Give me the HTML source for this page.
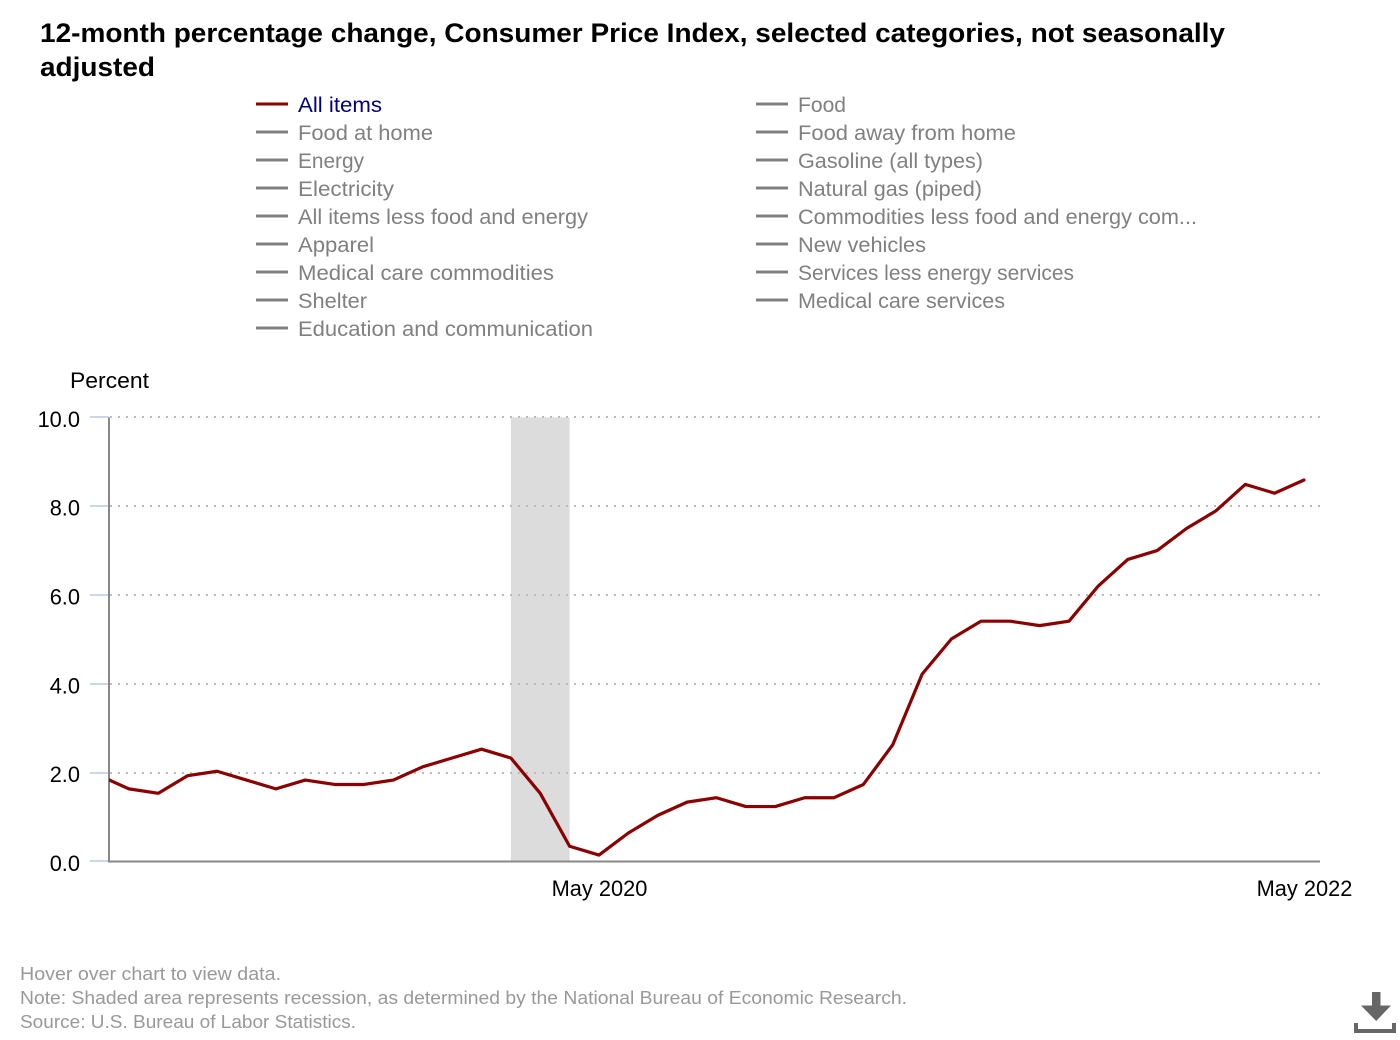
<!DOCTYPE html>
<html lang="en">
<head>
<meta charset="utf-8">
<title>12-month percentage change, Consumer Price Index</title>
<style>
html,body{margin:0;padding:0;background:#fff;width:1400px;height:1040px;overflow:hidden}
svg{display:block;font-family:"Liberation Sans",Arial,sans-serif}
.title{font-size:27px;font-weight:bold;fill:#000}
.leg{font-size:21.5px;fill:#808080}
.legline{stroke:#808080;stroke-width:3}
.foot{font-size:18.5px;fill:#999}
.axis-label{font-size:21.8px;fill:#000}
</style>
</head>
<body>
<svg id="chart" xmlns="http://www.w3.org/2000/svg" width="1400" height="1040" viewBox="0 0 1400 1040">
  <defs>
    <clipPath id="plot-clip"><rect x="109" y="400" width="1215" height="470"/></clipPath>
  </defs>
  <g>
    <text class="title" x="40" y="42" textLength="1185" lengthAdjust="spacingAndGlyphs">12-month percentage change, Consumer Price Index, selected categories, not seasonally</text>
    <text class="title" x="40" y="76" textLength="115" lengthAdjust="spacingAndGlyphs">adjusted</text>
  </g>

  <g>
    <g><line x1="256" x2="288" y1="104" y2="104" stroke="#8b0000" stroke-width="3"/><text class="leg" x="298" y="112" style="fill:#000080" textLength="84" lengthAdjust="spacingAndGlyphs">All items</text></g>
    <g><line class="legline" x1="756" x2="788" y1="104" y2="104"/><text class="leg" x="798" y="112" textLength="48" lengthAdjust="spacingAndGlyphs">Food</text></g>
    <g><line class="legline" x1="256" x2="288" y1="132" y2="132"/><text class="leg" x="298" y="140" textLength="135" lengthAdjust="spacingAndGlyphs">Food at home</text></g>
    <g><line class="legline" x1="756" x2="788" y1="132" y2="132"/><text class="leg" x="798" y="140" textLength="218" lengthAdjust="spacingAndGlyphs">Food away from home</text></g>
    <g><line class="legline" x1="256" x2="288" y1="160" y2="160"/><text class="leg" x="298" y="168" textLength="66" lengthAdjust="spacingAndGlyphs">Energy</text></g>
    <g><line class="legline" x1="756" x2="788" y1="160" y2="160"/><text class="leg" x="798" y="168" textLength="185" lengthAdjust="spacingAndGlyphs">Gasoline (all types)</text></g>
    <g><line class="legline" x1="256" x2="288" y1="188" y2="188"/><text class="leg" x="298" y="196" textLength="96" lengthAdjust="spacingAndGlyphs">Electricity</text></g>
    <g><line class="legline" x1="756" x2="788" y1="188" y2="188"/><text class="leg" x="798" y="196" textLength="184" lengthAdjust="spacingAndGlyphs">Natural gas (piped)</text></g>
    <g><line class="legline" x1="256" x2="288" y1="216" y2="216"/><text class="leg" x="298" y="224" textLength="290" lengthAdjust="spacingAndGlyphs">All items less food and energy</text></g>
    <g><line class="legline" x1="756" x2="788" y1="216" y2="216"/><text class="leg" x="798" y="224" textLength="399" lengthAdjust="spacingAndGlyphs">Commodities less food and energy com...</text></g>
    <g><line class="legline" x1="256" x2="288" y1="244" y2="244"/><text class="leg" x="298" y="252" textLength="76" lengthAdjust="spacingAndGlyphs">Apparel</text></g>
    <g><line class="legline" x1="756" x2="788" y1="244" y2="244"/><text class="leg" x="798" y="252" textLength="128" lengthAdjust="spacingAndGlyphs">New vehicles</text></g>
    <g><line class="legline" x1="256" x2="288" y1="272" y2="272"/><text class="leg" x="298" y="280" textLength="256" lengthAdjust="spacingAndGlyphs">Medical care commodities</text></g>
    <g><line class="legline" x1="756" x2="788" y1="272" y2="272"/><text class="leg" x="798" y="280" textLength="276" lengthAdjust="spacingAndGlyphs">Services less energy services</text></g>
    <g><line class="legline" x1="256" x2="288" y1="300" y2="300"/><text class="leg" x="298" y="308" textLength="69" lengthAdjust="spacingAndGlyphs">Shelter</text></g>
    <g><line class="legline" x1="756" x2="788" y1="300" y2="300"/><text class="leg" x="798" y="308" textLength="207" lengthAdjust="spacingAndGlyphs">Medical care services</text></g>
    <g><line class="legline" x1="256" x2="288" y1="328" y2="328"/><text class="leg" x="298" y="336" textLength="295" lengthAdjust="spacingAndGlyphs">Education and communication</text></g>
  </g>

  <text class="axis-label" x="70" y="388" textLength="79" lengthAdjust="spacingAndGlyphs">Percent</text>

  <g id="recession-layer"></g>
  <g id="grid-layer"></g>
  <g id="axis-layer"></g>
  <g id="series-layer" clip-path="url(#plot-clip)"></g>
  <g id="label-layer"></g>

  <g>
    <text class="foot" x="20" y="980" textLength="261" lengthAdjust="spacingAndGlyphs">Hover over chart to view data.</text>
    <text class="foot" x="20" y="1004" textLength="887" lengthAdjust="spacingAndGlyphs">Note: Shaded area represents recession, as determined by the National Bureau of Economic Research.</text>
    <text class="foot" x="20" y="1028" textLength="336" lengthAdjust="spacingAndGlyphs">Source: U.S. Bureau of Labor Statistics.</text>
  </g>

  <g fill="#666">
    <rect x="1372" y="992" width="8.5" height="13.5"/>
    <polygon points="1361,1005.5 1391,1005.5 1376.2,1021"/>
    <path d="M1354 1023h4v6h34v-6h4v10h-42z"/>
  </g>
</svg>

<script>
const categories = ['Dec 2018','Jan 2019','Feb 2019','Mar 2019','Apr 2019','May 2019','Jun 2019','Jul 2019','Aug 2019','Sep 2019','Oct 2019','Nov 2019','Dec 2019','Jan 2020','Feb 2020','Mar 2020','Apr 2020','May 2020','Jun 2020','Jul 2020','Aug 2020','Sep 2020','Oct 2020','Nov 2020','Dec 2020','Jan 2021','Feb 2021','Mar 2021','Apr 2021','May 2021','Jun 2021','Jul 2021','Aug 2021','Sep 2021','Oct 2021','Nov 2021','Dec 2021','Jan 2022','Feb 2022','Mar 2022','Apr 2022','May 2022'];
const allItems = [1.9,1.6,1.5,1.9,2.0,1.8,1.6,1.8,1.7,1.7,1.8,2.1,2.3,2.5,2.3,1.5,0.3,0.1,0.6,1.0,1.3,1.4,1.2,1.2,1.4,1.4,1.7,2.6,4.2,5.0,5.4,5.4,5.3,5.4,6.2,6.8,7.0,7.5,7.9,8.5,8.3,8.6];
const yTicks = [0,2,4,6,8,10];
const xTickLabels = ['May 2020','May 2022'];
const recessionStart = 'Feb 2020';
const recessionEnd = 'Apr 2020';

const NS = 'http://www.w3.org/2000/svg';
const plot = {left:109, right:1320, top:417.4, bottom:861.4, xFirst:99.6, xLast:1304};
function xScale(label){
  const i = categories.indexOf(label);
  return plot.xFirst + i * (plot.xLast - plot.xFirst) / (categories.length - 1);
}
function yScale(v){
  return plot.bottom - v * (plot.bottom - plot.top) / 10;
}
function seriesY(v){
  return 859.5 - v * 44.13;
}
function make(tag, attrs, parent){
  const el = document.createElementNS(NS, tag);
  for (const k in attrs) el.setAttribute(k, attrs[k]);
  parent.appendChild(el);
  return el;
}

const recessionLayer = document.getElementById('recession-layer');
const gridLayer = document.getElementById('grid-layer');
const axisLayer = document.getElementById('axis-layer');
const seriesLayer = document.getElementById('series-layer');
const labelLayer = document.getElementById('label-layer');

const band = make('rect', {
  x: xScale(recessionStart), y: plot.top,
  width: xScale(recessionEnd) - xScale(recessionStart),
  height: plot.bottom - plot.top, fill: '#dcdcdc'
}, recessionLayer);



yTicks.forEach(function(t){
  const y = Math.round(yScale(t));
  if (t > 0) {
    const grid = make('line', {
      x1: plot.left + 1, x2: plot.right, y1: y, y2: y,
      stroke: '#bbb', 'stroke-width': 2, 'stroke-dasharray': '2 6',
      'shape-rendering': 'crispEdges'
    }, gridLayer);
    
    
  }
  const tick = make('line', {
    x1: 90, x2: plot.left, y1: y, y2: y, stroke: '#ccd6eb', 'stroke-width': 2,
    'shape-rendering': 'crispEdges'
  }, axisLayer);
  
  
  const label = make('text', {
    x: 80, y: yScale(t) + 9.5, 'text-anchor': 'end', class: 'axis-label'
  }, labelLayer);
  label.textContent = t.toFixed(1);
  
  
});

const yAxis = make('line', {
  x1: plot.left, x2: plot.left, y1: plot.top, y2: plot.bottom + 1, stroke: '#888', 'stroke-width': 2,
  'shape-rendering': 'crispEdges'
}, axisLayer);


const xAxis = make('line', {
  x1: plot.left, x2: plot.right, y1: plot.bottom, y2: plot.bottom, stroke: '#888', 'stroke-width': 2,
  'shape-rendering': 'crispEdges'
}, axisLayer);



xTickLabels.forEach(function(name){
  const label = make('text', {
    x: xScale(name) + 0.5, y: 896, 'text-anchor': 'middle', class: 'axis-label'
  }, labelLayer);
  label.textContent = name;
  
  
});

const points = allItems.map(function(v, i){
  return xScale(categories[i]).toFixed(2) + ',' + seriesY(v).toFixed(2);
}).join(' ');
const line = make('polyline', {
  points: points, fill: 'none', stroke: '#8b0000', 'stroke-width': 3.2,
  'stroke-linejoin': 'round', 'stroke-linecap': 'round'
}, seriesLayer);


</script>
</body>
</html>
